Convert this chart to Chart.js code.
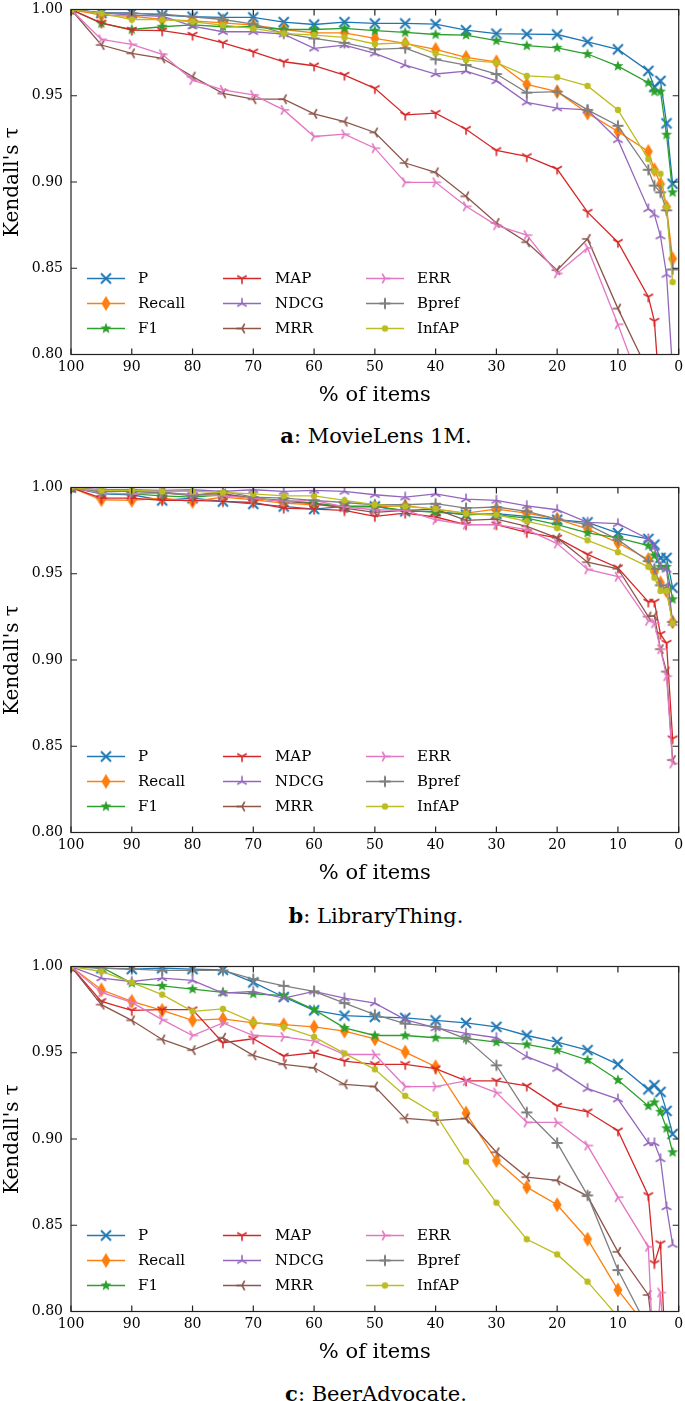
<!DOCTYPE html>
<html>
<head>
<meta charset="utf-8">
<script src="https://cdn.jsdelivr.net/npm/chart.js@4"></script>
<style>
  body { margin: 0; background: #fff; }
  #page { position: relative; width: 685px; height: 1401px; font-family: "DejaVu Serif", serif; }
  .panel { position: absolute; left: 0; width: 685px; height: 410px; }
  .cap { position: absolute; left: 71px; width: 610px; height: 24px; line-height: 24px;
         text-align: center; font-size: 21px; color: #000; }
</style>
</head>
<body>
<div id="page">
  <div class="panel" style="top:0px"><canvas id="chartA" width="685" height="410"></canvas></div>
  <div class="cap" style="top:424px"><b>a</b>: MovieLens 1M.</div>
  <div class="panel" style="top:478px"><canvas id="chartB" width="685" height="410"></canvas></div>
  <div class="cap" style="top:904px"><b>b</b>: LibraryThing.</div>
  <div class="panel" style="top:957px"><canvas id="chartC" width="685" height="410"></canvas></div>
  <div class="cap" style="top:1382px"><b>c</b>: BeerAdvocate.</div>
</div>
<script>
// x positions (% of items kept)
const PCT = [100, 95, 90, 85, 80, 75, 70, 65, 60, 55, 50, 45, 40, 35, 30, 25, 20, 15, 10, 5, 4, 3, 2, 1];
const METRICS = ['P', 'Recall', 'F1', 'MAP', 'NDCG', 'MRR', 'ERR', 'Bpref', 'InfAP'];
const COLORS = ['#1f77b4', '#ff7f0e', '#2ca02c', '#d62728', '#9467bd', '#8c564b', '#e377c2', '#7f7f7f', '#bcbd22'];
const MARKERS = ['x', 'd', '*', '1', '2', '3', '4', '+', '.'];
const Y_TICKS = [0.80, 0.85, 0.90, 0.95, 1.00];

// a: MovieLens 1M
const ml_P      = [1.000, 0.998, 0.998, 0.9967, 0.9958, 0.9954, 0.9954, 0.9927, 0.9913, 0.9927, 0.9919, 0.9919, 0.9915, 0.988, 0.986, 0.9857, 0.9855, 0.9813, 0.9769, 0.9644, 0.955, 0.9586, 0.934, 0.899];
const ml_Recall = [1.000, 0.9967, 0.9961, 0.9942, 0.9934, 0.9923, 0.9909, 0.9884, 0.9865, 0.9865, 0.9832, 0.9803, 0.9769, 0.9723, 0.9697, 0.9566, 0.9524, 0.9399, 0.9293, 0.9177, 0.9071, 0.8988, 0.8855, 0.8555];
const ml_F1     = [1.000, 0.9919, 0.9884, 0.990, 0.9911, 0.990, 0.990, 0.9884, 0.9884, 0.989, 0.9877, 0.9867, 0.9855, 0.9852, 0.9819, 0.979, 0.9778, 0.9742, 0.9672, 0.9576, 0.9524, 0.9524, 0.9274, 0.894];
const ml_MAP    = [1.000, 0.9923, 0.9881, 0.9877, 0.9852, 0.9807, 0.9755, 0.9697, 0.9674, 0.962, 0.9543, 0.9389, 0.9399, 0.9306, 0.9183, 0.9148, 0.9075, 0.8825, 0.8651, 0.8335, 0.8194, 0.77, 0.74, 0.71];
const ml_NDCG   = [1.000, 0.998, 0.9967, 0.9961, 0.9904, 0.9871, 0.9871, 0.9857, 0.9775, 0.9794, 0.9746, 0.9678, 0.9626, 0.9643, 0.9586, 0.9462, 0.9428, 0.9418, 0.9245, 0.8844, 0.8811, 0.8686, 0.8464, 0.79];
const ml_MRR    = [1.000, 0.9794, 0.9746, 0.9717, 0.9611, 0.9514, 0.948, 0.948, 0.9395, 0.935, 0.9287, 0.911, 0.9056, 0.8917, 0.8763, 0.8651, 0.8489, 0.867, 0.8266, 0.79, 0.78, 0.77, 0.75, 0.72];
const ml_ERR    = [1.000, 0.9827, 0.9798, 0.974, 0.9591, 0.9534, 0.9505, 0.9418, 0.9264, 0.9277, 0.9196, 0.8998, 0.8998, 0.8859, 0.8749, 0.8692, 0.847, 0.8618, 0.8175, 0.77, 0.76, 0.75, 0.73, 0.70];
const ml_Bpref  = [1.000, 0.998, 0.9977, 0.9973, 0.9958, 0.9942, 0.9915, 0.9861, 0.9832, 0.9807, 0.9769, 0.9776, 0.9711, 0.9678, 0.9626, 0.9518, 0.9524, 0.9418, 0.9326, 0.9071, 0.8979, 0.894, 0.8836, 0.8493];
const ml_InfAP  = [1.000, 0.9977, 0.9942, 0.9942, 0.9929, 0.9909, 0.989, 0.9861, 0.9852, 0.9838, 0.980, 0.9807, 0.9746, 0.9707, 0.9692, 0.9615, 0.9607, 0.9557, 0.9418, 0.9133, 0.9062, 0.9048, 0.8855, 0.842];

// b: LibraryThing
const lt_P      = [1.000, 0.9963, 0.9958, 0.9925, 0.9938, 0.9919, 0.9905, 0.989, 0.9875, 0.989, 0.989, 0.9862, 0.9862, 0.9842, 0.9848, 0.9833, 0.9813, 0.9798, 0.9736, 0.9702, 0.9669, 0.9592, 0.9592, 0.9419];
const lt_Recall = [1.000, 0.9929, 0.9925, 0.9938, 0.9919, 0.9944, 0.9929, 0.991, 0.990, 0.989, 0.989, 0.9894, 0.9875, 0.9852, 0.9875, 0.9852, 0.9817, 0.976, 0.9679, 0.9583, 0.951, 0.9448, 0.940, 0.9221];
const lt_F1     = [1.000, 0.9967, 0.9963, 0.9952, 0.9944, 0.9958, 0.9938, 0.9925, 0.991, 0.989, 0.989, 0.9867, 0.9856, 0.9846, 0.9842, 0.9823, 0.9785, 0.9737, 0.9708, 0.9663, 0.9606, 0.954, 0.954, 0.9352];
const lt_MAP    = [1.000, 0.9938, 0.9938, 0.9925, 0.9925, 0.9919, 0.9913, 0.9881, 0.9875, 0.9867, 0.9833, 0.9852, 0.9829, 0.9785, 0.9785, 0.974, 0.9708, 0.9612, 0.9535, 0.9337, 0.9337, 0.915, 0.9098, 0.8544];
const lt_NDCG   = [1.000, 0.9987, 0.9987, 0.9983, 0.9987, 0.9977, 0.9987, 0.9977, 0.9983, 0.9977, 0.9958, 0.9944, 0.9963, 0.9933, 0.9925, 0.9894, 0.9871, 0.9798, 0.979, 0.9702, 0.965, 0.954, 0.9525, 0.9217];
const lt_MRR    = [1.000, 0.9977, 0.9977, 0.9971, 0.9958, 0.9965, 0.9938, 0.9919, 0.9906, 0.9881, 0.9856, 0.9867, 0.9875, 0.981, 0.9817, 0.9775, 0.9708, 0.9567, 0.9529, 0.9252, 0.9256, 0.9063, 0.8933, 0.842];
const lt_ERR    = [1.000, 0.9967, 0.9963, 0.9967, 0.9958, 0.9952, 0.9938, 0.9919, 0.9925, 0.9887, 0.9871, 0.9867, 0.9813, 0.9785, 0.9785, 0.9756, 0.9675, 0.9525, 0.9483, 0.9227, 0.9213, 0.9063, 0.8906, 0.840];
const lt_Bpref  = [1.000, 0.9977, 0.9977, 0.9971, 0.9952, 0.9977, 0.9944, 0.9938, 0.9925, 0.9913, 0.990, 0.990, 0.9906, 0.9881, 0.9887, 0.9862, 0.9817, 0.9785, 0.9698, 0.9573, 0.9529, 0.9433, 0.941, 0.9221];
const lt_InfAP  = [1.000, 0.9983, 0.9983, 0.9977, 0.9977, 0.9971, 0.9963, 0.9952, 0.9952, 0.9925, 0.990, 0.989, 0.9875, 0.9848, 0.9842, 0.9804, 0.9765, 0.9694, 0.9625, 0.954, 0.9477, 0.940, 0.940, 0.9213];

// c: BeerAdvocate
const ba_P      = [1.000, 0.999, 0.9985, 0.999, 0.9985, 0.9981, 0.9908, 0.9823, 0.9746, 0.9715, 0.9708, 0.9702, 0.9688, 0.9673, 0.965, 0.960, 0.9562, 0.9515, 0.9433, 0.9288, 0.9312, 0.9273, 0.9163, 0.9029];
const ba_Recall = [1.000, 0.9865, 0.9798, 0.9746, 0.9688, 0.9696, 0.9673, 0.9663, 0.965, 0.9625, 0.958, 0.9504, 0.9419, 0.915, 0.8875, 0.8721, 0.8619, 0.8419, 0.8125, 0.79, 0.785, 0.78, 0.77, 0.76];
const ba_F1     = [1.000, 0.9996, 0.9904, 0.9888, 0.9869, 0.985, 0.9842, 0.9831, 0.975, 0.9644, 0.960, 0.960, 0.9587, 0.9583, 0.9562, 0.9548, 0.9515, 0.9458, 0.9342, 0.9192, 0.9212, 0.9158, 0.9062, 0.8923];
const ba_MAP    = [1.000, 0.9798, 0.9746, 0.975, 0.975, 0.9558, 0.9581, 0.9481, 0.950, 0.9452, 0.9433, 0.9433, 0.9408, 0.9337, 0.9337, 0.9308, 0.9192, 0.9158, 0.9048, 0.8673, 0.8279, 0.8394, 0.76, 0.75];
const ba_NDCG   = [1.000, 0.9933, 0.9913, 0.9933, 0.9919, 0.9846, 0.9856, 0.9817, 0.9856, 0.9817, 0.9788, 0.9692, 0.9644, 0.9612, 0.9587, 0.9477, 0.9408, 0.9292, 0.9231, 0.8977, 0.8977, 0.8885, 0.8606, 0.8388];
const ba_MRR    = [1.000, 0.9779, 0.9688, 0.9577, 0.9515, 0.9587, 0.9485, 0.9433, 0.9413, 0.9317, 0.9304, 0.9119, 0.9106, 0.9119, 0.8923, 0.8779, 0.876, 0.8669, 0.8346, 0.8096, 0.78, 0.77, 0.76, 0.75];
const ba_ERR    = [1.000, 0.985, 0.9792, 0.9692, 0.960, 0.9673, 0.960, 0.9592, 0.9567, 0.949, 0.949, 0.9304, 0.9304, 0.9337, 0.9269, 0.9096, 0.9096, 0.8962, 0.8663, 0.8375, 0.76, 0.811, 0.76, 0.75];
const ba_Bpref  = [1.000, 0.999, 0.9985, 0.9977, 0.9977, 0.9977, 0.9927, 0.9888, 0.9856, 0.9788, 0.9721, 0.9669, 0.965, 0.9581, 0.9427, 0.9154, 0.8977, 0.8673, 0.824, 0.79, 0.78, 0.77, 0.76, 0.75];
const ba_InfAP  = [1.000, 0.9971, 0.9908, 0.9837, 0.974, 0.9754, 0.9677, 0.965, 0.9592, 0.9496, 0.9404, 0.925, 0.9144, 0.8869, 0.8631, 0.8419, 0.8331, 0.8173, 0.797, 0.77, 0.76, 0.75, 0.74, 0.73];

const FONT = '"DejaVu Serif", serif';

// small canvas images that imitate the matplotlib markers
function makeMarker(shape, color) {
  const c = document.createElement('canvas');
  c.width = 20; c.height = 20;
  const g = c.getContext('2d');
  g.translate(10, 10);
  g.strokeStyle = color;
  g.fillStyle = color;
  g.lineWidth = 1.6;
  const spokes = (angles, r) => {
    g.beginPath();
    angles.forEach(a => { g.moveTo(0, 0); g.lineTo(r * Math.cos(a), r * Math.sin(a)); });
    g.stroke();
  };
  if (shape === 'x') {
    g.lineWidth = 2;
    g.beginPath();
    g.moveTo(-5, -5); g.lineTo(5, 5);
    g.moveTo(5, -5); g.lineTo(-5, 5);
    g.stroke();
  } else if (shape === '+') {
    g.lineWidth = 2;
    g.beginPath();
    g.moveTo(-5.5, 0); g.lineTo(5.5, 0);
    g.moveTo(0, -5.5); g.lineTo(0, 5.5);
    g.stroke();
  } else if (shape === 'd') {
    g.beginPath();
    g.moveTo(0, -7.5); g.lineTo(4.5, 0); g.lineTo(0, 7.5); g.lineTo(-4.5, 0);
    g.closePath();
    g.fill();
  } else if (shape === '*') {
    g.beginPath();
    for (let i = 0; i < 10; i++) {
      const r = i % 2 === 0 ? 5.8 : 2.4;
      const a = -Math.PI / 2 + i * Math.PI / 5;
      g.lineTo(r * Math.cos(a), r * Math.sin(a));
    }
    g.closePath();
    g.fill();
  } else if (shape === '1') {
    spokes([Math.PI / 2, 7 * Math.PI / 6, -Math.PI / 6], 5.5);
  } else if (shape === '2') {
    spokes([-Math.PI / 2, 5 * Math.PI / 6, Math.PI / 6], 5.5);
  } else if (shape === '3') {
    spokes([Math.PI, Math.PI / 3, -Math.PI / 3], 5.5);
  } else if (shape === '4') {
    spokes([0, 2 * Math.PI / 3, -2 * Math.PI / 3], 5.5);
  } else {
    g.beginPath();
    g.arc(0, 0, 3.2, 0, Math.PI * 2);
    g.fill();
  }
  return c;
}

const MARKER_IMGS = METRICS.map((m, i) => makeMarker(MARKERS[i], COLORS[i]));

// box around the axes with inward ticks on all four sides
const framePlugin = {
  id: 'frame',
  afterDatasetsDraw(chart) {
    const { ctx, chartArea: a, scales } = chart;
    ctx.save();
    ctx.strokeStyle = '#222';
    ctx.lineWidth = 1.2;
    ctx.strokeRect(a.left, a.top, a.right - a.left, a.bottom - a.top);
    ctx.beginPath();
    scales.x.ticks.forEach(t => {
      const px = scales.x.getPixelForValue(t.value);
      ctx.moveTo(px, a.bottom); ctx.lineTo(px, a.bottom - 6);
      ctx.moveTo(px, a.top); ctx.lineTo(px, a.top + 6);
    });
    Y_TICKS.forEach(v => {
      const py = scales.y.getPixelForValue(v);
      ctx.moveTo(a.left, py); ctx.lineTo(a.left + 6, py);
      ctx.moveTo(a.right, py); ctx.lineTo(a.right - 6, py);
    });
    ctx.stroke();
    ctx.restore();
  }
};

// legend in three columns at the lower left of the axes
const legendPlugin = {
  id: 'cornerLegend',
  afterDatasetsDraw(chart) {
    const { ctx, chartArea: a } = chart;
    const colX = [16, 152, 295];
    const textX = [67, 204, 346];
    const rowY = [-76, -51, -26];
    ctx.save();
    ctx.font = '15px ' + FONT;
    ctx.fillStyle = '#000';
    ctx.textBaseline = 'middle';
    METRICS.forEach((name, i) => {
      const col = Math.floor(i / 3), row = i % 3;
      const x0 = a.left + colX[col];
      const y = a.bottom + rowY[row];
      ctx.strokeStyle = COLORS[i];
      ctx.lineWidth = 1.4;
      ctx.beginPath();
      ctx.moveTo(x0, y); ctx.lineTo(x0 + 38, y);
      ctx.stroke();
      ctx.drawImage(MARKER_IMGS[i], x0 + 19 - 10, y - 10);
      ctx.fillText(name, a.left + textX[col], y + 1);
    });
    ctx.restore();
  }
};

function drawPanel(canvasId, series) {
  const datasets = series.map((values, i) => ({
    label: METRICS[i],
    data: PCT.map((p, k) => ({ x: p, y: values[k] })),
    borderColor: COLORS[i],
    backgroundColor: COLORS[i],
    borderWidth: 1.3,
    pointStyle: MARKER_IMGS[i],
    pointRadius: 5,
    tension: 0,
    order: series.length - i
  }));

  new Chart(document.getElementById(canvasId), {
    type: 'line',
    data: { datasets },
    plugins: [framePlugin, legendPlugin],
    options: {
      responsive: false,
      animation: false,
      events: [],
      layout: { padding: { top: 9.5, right: 4, left: 0, bottom: 0 } },
      plugins: { legend: { display: false }, tooltip: { enabled: false } },
      scales: {
        x: {
          type: 'linear',
          reverse: true,
          min: 0,
          max: 100,
          grid: { display: false, drawTicks: false },
          border: { display: false },
          ticks: { stepSize: 10, padding: 4, color: '#000', maxRotation: 0, font: { family: FONT, size: 14 } },
          title: { display: true, text: '% of items', color: '#000', font: { family: FONT, size: 21 }, padding: { top: 0, bottom: 2 } },
          afterFit: s => { s.height = 55.5; s.paddingLeft = 0; s.paddingRight = 0; }
        },
        y: {
          min: 0.8,
          max: 1.0,
          grid: { display: false, drawTicks: false },
          border: { display: false },
          afterBuildTicks: s => { s.ticks = Y_TICKS.map(v => ({ value: v })); },
          ticks: { padding: 8, color: '#000', font: { family: FONT, size: 14 }, callback: v => Number(v).toFixed(2) },
          title: { display: true, text: "Kendall's τ", color: '#000', font: { family: FONT, size: 20 }, padding: { top: 1, bottom: 0 } },
          afterFit: s => { s.width = 71; s.paddingTop = 0; s.paddingBottom = 0; }
        }
      }
    }
  });
}

drawPanel('chartA', [ml_P, ml_Recall, ml_F1, ml_MAP, ml_NDCG, ml_MRR, ml_ERR, ml_Bpref, ml_InfAP]);
drawPanel('chartB', [lt_P, lt_Recall, lt_F1, lt_MAP, lt_NDCG, lt_MRR, lt_ERR, lt_Bpref, lt_InfAP]);
drawPanel('chartC', [ba_P, ba_Recall, ba_F1, ba_MAP, ba_NDCG, ba_MRR, ba_ERR, ba_Bpref, ba_InfAP]);
</script>
</body>
</html>
